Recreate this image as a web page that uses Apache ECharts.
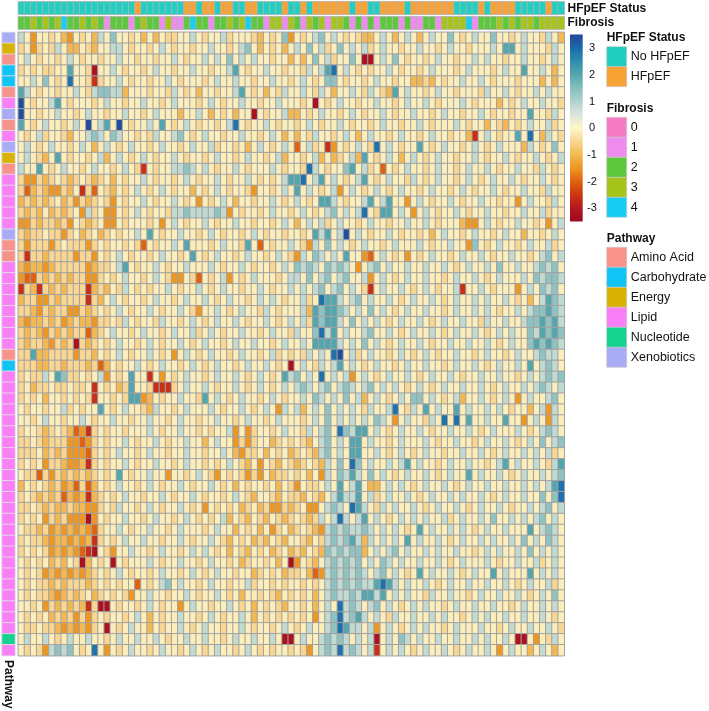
<!DOCTYPE html>
<html><head><meta charset="utf-8">
<script src="https://cdn.jsdelivr.net/npm/echarts/dist/echarts.min.js"></script>
<style>html,body{margin:0;padding:0;background:#fff}#c{width:709px;height:711px}</style>
</head><body><div id="c"></div>
<script>
// value levels (colour class of each cell)
const levelCodes  = ['R','r','O','o','y','l','.','w','g','t','T','b','B'];
const levelValues = [-3.2,-2.6,-2.0,-1.5,-1.0,-0.5,-0.12,0.4,0.8,1.4,2.0,2.9,3.4];

// 57 metabolite rows x 89 sample columns
const heatRows = [
"g . o . . l . y o . | l . y g . t . . l . | y . y . l l . . g . | l . . g l . . . l y | . l . t o | . l . g t . g . l . | l y y . g . y . g . | y . g . . t . l . g | . . t . . l . g . . | l g . y",
"l . o l . l g . y y | . l y . . g g . l . | . l . g . l . . l . | . g . . l . g t . y | . l . y . | g . t . g l . t . g | . g l . g . . l . . | g . . l . g . . l . | . . g . T T . g . . | . l g .",
". g . l . . l . g . | l . . l . . g . . l | . . l . . g . l . . | g . g . t . g . g . | . l . . y | . y . t . g l . . t | . R R . g . t . l . | . l . g . . l . . g | . g . . l . . g . . | l . g .",
"l . l . l l . . T . | . l R . . g . l . . | l . g . . l . . g . | . l . . g T . l . . | g . . l . | . l g . g T b . g . | l . l . . g . l . . | l . g . . . l . g . | . . l . g . . T . . | g . y .",
". . g . t . l . b . | . l r l . . g . l . | . l . . g . l . . . | l . g . . g . . l . | . g . . l | . g . l . t t . l . | . l . g . . l . . y | y l y . l . . g . . | g . l . . . l . . . | y . y .",
"T g . l . . l . . g | . l g t t g g y . . | . l . . l g . l . y | . . l . . g T . l . | y . l g . | . g . l g . y . . g | . l g . l y T . g . | . l . g . . l . . . | l g . . g . l . . g | . g . .",
"B . l . . g T . l . | . . l . g . . l . . | g . . l . g . . . l | . g . l . . g . . l | . . g . . | . l . R . l . g . . | l . . g . . l . g . | . g . l . . . g . l | . . . y . l . g . . | g . . l",
"B . . l . . g . . l | . g . . l . . g . . | l . g . . . y . . g | . y . l . y . . R . | l . . g y | y . l . g . . l . g | . l . . g . l . . g | . . l . g . . l . . | g . l . . l . . T . | . l g .",
"T . l . g . . l . g | . B . g T . B . l . | . g . T . l . g . l | . . l . g b . l . . | g . l . . | l . g . l . . g . l | . . l . g . . l . . | g . l . . . g . l . | . y . l y . l . g . | . g l .",
". l . g l . . l y . | . g t g . t g . . l | . l g . . g t . l . | g . . l . . g . . l | . g . y . | y . l g . . l . g . | y . g . . l . g . . | l . g . . l . . y r | . g . l . . T . b . | y g . l",
". g . l . g . . l . | g . y . g . l . g . | . l . g . . l . g . | . g l . . l . y . g | . l . g . | O . g l . r o . l . | g . l b . g . l . . | T . l . g . . l . g | . l . g . . . y g . | l . t .",
". g . l y . T . l . | . l . g y . g . l . | g . l . . g . l . . | l . g . . l . g . . | l . g y . | . l . g y . y l . g | y T . l . g . y . g | . l . g . . l . . g | . l . . g . l . . g | . l . g",
"g . . T . l . g . . | l . g . . l . g . l | r . l . . g g t g . | g . l . . g . l . . | . g . l . | . l b g . l . . t T | . g l . O . l . g . | . l . g . . l . g . | . g . l . . g . . l | g . l .",
"l o o l y l . l y l | . l y l . y . l . . | g . l . . l . g . l | . . g . l . . g . l | . l . g T | T b . g T . g . l . | g T . l . g . . l g | . l . g . . l . g . | l . g . . g . l . . | g . l .",
"l O y l y o o l y . | r l O . l y . l . g | . l . g . l . . y . | l . g . l . . l o . | . l . g . | T . g . l . g o . g | . l . g . l . g . . | l . g . . l . g . l | . . g . l . . g . . | l g . .",
"y l y l y l . y l o | l y l . l o . l . . | g . l . . g . l . o | . l . g . y . . l . | . g . l . | g . l . T T g . l . | . g T . g T . . o . | g . l . . g . l . . | g . . l . . o . g . | . l g .",
"l y l y . y l y l . | o g l . o o . l . g | . l . . l g g t g g | g g t g o . l . . l | . g . . l | . g . l . g t . g . | g b . l T T . g . o | . g . l . . g . l . | . g . . l . . g . . | g l . .",
"o o l y l l y l o . | l y l . o o . l . . | . l . o . g . l . . | g . l . . g . . l . | . l . g . | y . g . g l . g . . | l . g . . l . . g . | . g . l . . . y o o | . g . l . . g . . l | . o . g",
"l y l l . l l o l . | y l . y l . l . . g | . T . l . . g . . l | . g . l . . l . g . | l . . l . | . l . T g T . g B . | g . l . . g . l . . | l . y . g . . l . g | . . l . g . . y . . | l . g .",
"l o l l l o l . l l | l o l . l . . l . l | O . l . . g . T . . | . l . g . . l T . O | . l . . g | . l o g . t . g . l | . g . . l . g . . . | g . l . . g . . o t | . l . g . . l . g . | . g l .",
"l r l l y l l l l o | l l o . l . g . l . | . l . g . . l . T . | l . g . . l . g . . | l . g . l | o g . t g . g . T . | . o O . g . l . o . | l . g . . l . g . . | g . l . . g . . l . | g t . g",
"y o y y o y l l l l | l o y l l . g T . l | . . g . l . . g . . | . g . l . . g . l . | . l . g . | t g t g . t g t g . | o . g t . g . . g . | . g . . g . l . g . | . g . t . . g . . g | t g t .",
"o O O l y l y l y l | l o o l . l . g . . | l . g . l o o . l O | . l . g o . l . g . | . . l . g | g . t . g t . g t . | . g o . g . l . g . | . g . . l . g . . g | . l . g . . . g . t | g t t g",
"r l y r l y l y l l | l r y l y . l g . l | . l . . g . l . . g | . l . g . . l . . g | . l . . g | . g . g t . g t . g | . l r . g . . g . l | . g . l . . g r . . | g . l . . . o . g . | t g t .",
"y l l o o l y l l l | l r l y . g . l . . | l . g . . l . g . . | g . l . g . . l . g | . g . l . | . g l . b T T g . g | t . g . . g . l . g | . . g . l . g . . g | . g . . g . l . y . | g T t g",
"l l y o l y l l o o | l y l . l . g . l . | . g . l . . g . l o | . . g . l . g . . l | g . l . . | . g y T t T T t g . | g . t . g . l . g . | . g . . l . g . . g | . g . l . . g . g t | t T t g",
"y o y y l y l o y l | y y o l l . l g . l | . . l g . . l . g . | l . g . . g . l . . | g . l . g | . g l T t T T g . t | . g . g . l . g . . | g . l . g . . g . . | l g . . g . . g t t | T t T g",
"l y l y o l y l y l | l O y l . g . . l . | g . . l . g . . g l | . g . l . . g . . l | . g . . l | g . . t b g T . g . | . g t . . g . l . g | . . g . l . g . . g | . l . g . g . . t g | T t T t",
"l y l l y o l y l R | l y l . l . g . . l | . g . l . . g . l . | g . . l . g . . g . | . l . g . | . g . T T T T g . g | . t . g . l . g . . | g . l . . g . . g . | . g . l . g . . t T | t T t g",
"l l T y y l l l l o | l l y . l . g . l . | . g . l . o . g . l | . g . . l . g . . l | . g l . l | . l g . g . b B . g | l . g . . l . g . l | . g . l . . g . . l | . g . . l . g . . g | t g g .",
"l l l y y l l y l l | l y l O y . l . . g | . l . g . . l . g . | l . g . . l . g . . | g . l . R | . g . l g . g T . g | . l . g . . l . g . | . g . . l . g . . g | . l . g . . g . T . | g t g .",
"l . l l g . T t l l | . l . g o . l . T . | . r . o . l . g . . | l . g . . g . l . g | . l . T g | t . g . b . g . g o | . g . l . g . . g . | l . g . . g . l . . | g . . g . . l . g . | g t g t",
"l . y l l . l l . l | l . r . l . y l T . | . l r r r l . g . . | g . l . . g . l . g | . l . g . | g t g . g t . g t g | . g t . g . g . l . | g . l . g . . g . . | g . l . g . . g . g | t g . g",
"l . l . y . . l . l | . l r . . l . l T T | o y . l . . g . . l | T . g . l . g . . l | . g . l . | . g . t g . g . t . | g y . g . l . g . t | t . g . l . g y . . | g . l . g . o . g . | . g t .",
". l . . l . . g l . | l . . T . l . g . . | l y g . . l . g . . | . g . l . . g . l . | g . o g . | g y . g . t . g . g | . l g . . g b . l g | . T . g . . T . g . | . g . g . l . . y . | g o g .",
". . l . g . . l . . | g . l . . g . . l . | . g . . l . g . . l | . . g . . l . g . . | l . g . . | . l . g . t . g . g | . g . t g . o . g . | . l g . b . b . T . | . g . . T . . o . g | . o g .",
"l . . l y l . l y O | o r l . l . . l . . | . g . l . . g . . l | . l . . g o . o l . | . l . g . | . l g . g t . b t g | T T . g . l . g . . | g . l . . g . . g . | l . g . . . g . l . | g t g .",
"l l . l y l l l o o | O o l . l . . g . l | . . g . l . . g . . | y . g . . o l o l . | . y l . l | . l y . g t . g . T | T . g . . l . g . . | . g . l . . g . . l | . g . . g . l . g . | t . g t",
"l l l . y l y l o o | o O l . l . g . . l | . g . . l . . g . . | l . . g . y o l l . | y . l . y | l . l y g t . g . T | T . . g . l . g . l | . g . . l . . g . . | g . l . g . . g . g | . g l .",
"l . l . o l l y o o | y r l . l . . g . l | . . g . . l . g . . | l . l . g . l y . o | . l y . l | y l . l y g . t . b | t . g . . g . g T . | g . . l . g . . g . | . l . g T . g . . g | . l g T",
". l l O l o l y l y | l y l . l . T . l . | . g . . o . . l . g | . l o . l . l o l o | . y l l . | l . y . o g . t g T | g . t . g . l . g . | . g . l . g . . T . | g . . g . l . g . . | g . g t",
"y . l . l y l o y O | l O y . l . g . . l | . g . l . . g . l . | . g . l . y . l . . | l . y . l | o . l l . g . T . g | T . y y . g . g . l | . g . . g . l . g . | . g . . g . . g . g | . g T b",
"l . l y l y l O y o | y r y l . l . g . . | l . . g . l . . g . | l . . l . g . l y . | . l y . l | l y . l y . g T g g | T . g l . g . . g . | l . g . . g . g . . | g . l . g . . g . . | t . t b",
"l l . l y l y y l y | y o o l . l g . . l | . g . l . . g . l . | o . l . l . y l . y | l o o l y | l . o o . g t g . b | T g . l g . g . . g | . l . g . . g . l . | g . . g . l . . g . | g t . g",
"l . l . o l y l o o | o R o . l . . g . . | l . g . . l . g . l | . l . g y . l y . l | y . l y l | . l y l g . g b g . | g T . g . l . g . g | . g . . g l . g . . | g . t . . g . g . g | t . g .",
". l l y l o y o y o | y o O l . . g . l . | . g . . l . g . . . | l . g . . y . l . y | . o l . y | l . l y o g t g t g | g t g . g . g . l . | T . g . . g . g . l | . g . . g . . . T . | g t g .",
"l . l l y o y y o y | o y r l . l . g . . | g . . l . . g . l . | . g . l y . l . y l | y . l y . | . l y . l g t g t T | g y g . g . g . T . | g . . g . l . g . . | g . g . . g . t . g | . t g .",
"l . l . l o y o y o | O r R . l o . . g . | . l . g . . l . g . | g . l . y . l y . l | . y l . y | l y . l y t g t g t | t y . g . g t . g . | . g . g . . g . . l | . g . g . . g . t . | g . g .",
". l . l . y l y . l | R y . l . R . l . . | . g . l . . g . . l | . g . . l . y l . . | l . y . R | o . l y . g t g t g | t . g . t g . g . . | g . . g . l . g . . | . g . l . . g . . g | l . g .",
". l . l o y o y o y | o y l . l . g . l . | . l . g . . l . g . | l . g . . l . . y l | . l . y l | l . y O o g t g t g | t g . g t . g . l . | T . g . . g . l . g | . . T . g . . . T . | g . g .",
". l . l l y l y l l | l y l . l . l . . O | . l . g t . g . . l | . g . . l . . g l . | . l . l . | . l . l . g t g t g | t g g T b T g . g . | . g . l . g . . g . | . g . . g . l . g . | . g l .",
". l . l l y o y l y | l . y l . l . l o . | . g . . l . . g . l | . . g . l . y . . l | . l y . l | . l . y . g t g g t | g T T g T . g . g . | . l g . . g . . l . | g . . g . . g . l . | g . t .",
". . l . o l y l y l | y r l R R . l . . l | . g . l . . o . g . | . l . . g . l . y . | l . l y . | . l . y . g . b g t | g . g t . g . l . g | . g . . l . g . . g | . . g . . l . g . . | g . g .",
". l . l . y l y l o | l o l . l . . l . g | . y . l . . g . . l | . g . l . . g . y . | l . l . l | . l . o . g t b g t | T g . g . l g . . g | . . g . g . . l . g | . g . . g . . g . . | g . l .",
". l l . l l y o y o | y o l . R . l . g . | . y . l . . g . l . | g . . l . . g . l . | . l . g . | l . g . . g t b T g | g . g o . g . l . g | . g . . l . g . . . | g . . l . g . . g . | . g . l",
". g . . g . l . g . | . g . . l . g . . g | . . g . l . . g . . | g . . l . g . . g . | . g . R R | . g . . g t g t g . | g . g R . g . t g . | g . . g . . g . . g | . g . . g . R R . o | . l g .",
". l . l o g t g t . | l . b . o . l . g . | . l . g . . l . g . | l . g . . l . g . l | . l . . l | . l o . g t g b g t | g . g r . g . g . l | . g . . g . l . g . | . g . o . g . . y . | g . y ."
];

// column annotations (89 samples)
const hfpefStatus = "0000000000000000000 1 0000000 11 0 11 0 11 00 11 0000 1 00 1 0 111111 0 11 00 1111 0 1111111 0000 1 0 1111 00000 1 00";
const fibrosis    = "2232323422 3232122212 3221311242 2122323422 1331321323 1332121212 2212112213 3334122232 323323333";
// row annotation (57 metabolites)
const pathwayRows = "XEACCALXALXEA LLLLL XAA LLLLLLLL AC LLLLLLLLLLLL LLLLLLLLLLLL NL";

const hfpefNames = ['No HFpEF','HFpEF'];
const hfpefColors = ['#22CEBF','#F7A234'];
const fibrosisNames = ['0','1','2','3','4'];
const fibrosisColors = ['#F57BC4','#EE8CEE','#5DC83C','#A6C41C','#19CCF2'];
const pathwayCodes = ['A','C','E','L','N','X'];
const pathwayNames = ['Amino Acid','Carbohydrate','Energy','Lipid','Nucleotide','Xenobiotics'];
const pathwayColors = ['#F8938B','#12C4F6','#D8B205','#F97FF7','#14D290','#A9ACF4'];
const scaleTicks = [3,2,1,0,-1,-2,-3];
// colours at -3.5, -3.0, ..., 3.5
const scaleColors = ['#9b0a22','#b3181c','#cc3614','#de6210','#ed9722','#f4b852','#f9d692','#fdf6c8','#dae6da','#b0d2cc','#86bfbe','#54a6ae','#2f8dac','#1a6aaa','#22479a'];

const NC = 89, NR = 57;
const clean = s => s.replace(/[\s|]/g,'');
const mainData = [];
heatRows.forEach((s, r) => {
  const t = clean(s);
  for (let c = 0; c < NC; c++) {
    const k = levelCodes.indexOf(t[c]);
    mainData.push([c, r, k < 0 ? 0 : levelValues[k]]);
  }
});
const hf = clean(hfpefStatus), fb = clean(fibrosis), pw = clean(pathwayRows);
const hfData = [], fbData = [], pwData = [];
for (let c = 0; c < NC; c++) { hfData.push([c, 0, +hf[c]]); fbData.push([c, 0, +fb[c]]); }
for (let r = 0; r < NR; r++) pwData.push([0, r, pathwayCodes.indexOf(pw[r])]);

const cols = Array.from({length: NC}, (_, i) => 'S' + (i + 1));
const rows = Array.from({length: NR}, (_, i) => 'M' + (i + 1));
const hid = {show:false};
const ax = (type, data, extra) => Object.assign({type:'category', data, axisLine:hid, axisTick:hid, axisLabel:hid, splitLine:hid}, extra||{});

const L = 18.3, W = 546, T0 = 32.3, H = 623.4;
const FONT = 'Liberation Sans, Arial, sans-serif';

const graphics = [];
const txt = (x, y, s, bold, size, extra) => graphics.push(Object.assign({type:'text', x, y, style:{text:s, fill:'#111', font:(bold?'bold ':'') + size + 'px ' + FONT, textAlign:'left', textVerticalAlign:'middle'}, silent:true}, extra||{}));
txt(567.5, 8.3, 'HFpEF Status', true, 12);
txt(567.5, 23, 'Fibrosis', true, 12);
txt(8.5, 660, 'Pathway', true, 12, {rotation: -Math.PI/2});

// colour scale legend
const barTop = 34.5, barH = 187;
graphics.push({type:'rect', shape:{x:570, y:barTop, width:12.7, height:barH}, silent:true,
  style:{fill:new echarts.graphic.LinearGradient(0,0,0,1, scaleColors.slice().reverse().map((c,i,a)=>({offset:i/(a.length-1), color:c})))}});
scaleTicks.forEach(v => graphics.push({type:'text', x:592, y:128.3 - v*26.67, silent:true,
  style:{text:String(v), fill:'#111', font:'11px ' + FONT, textAlign:'center', textVerticalAlign:'middle'}}));

function block(title, ty, names, colors) {
  txt(606.7, ty, title, true, 12);
  names.forEach((n, i) => {
    const y = ty + 8.7 + i*20;
    graphics.push({type:'rect', shape:{x:606.7, y, width:20, height:20}, silent:true, style:{fill:colors[i], stroke:'#c8c8c8', lineWidth:0.6}});
    txt(630.7, y + 10, n, false, 12.5);
  });
}
block('HFpEF Status', 38, hfpefNames, hfpefColors);
block('Fibrosis', 108.6, fibrosisNames, fibrosisColors);
block('Pathway', 238.6, pathwayNames, pathwayColors);

const option = {
  animation:false,
  grid:[
    {left:L, top:T0, width:W, height:H},
    {left:L, top:1.7, width:W, height:12.6},
    {left:L, top:16.7, width:W, height:12.6},
    {left:2, top:T0, width:13, height:H}
  ],
  xAxis:[ax('category', cols, {gridIndex:0}), ax('category', cols, {gridIndex:1}), ax('category', cols, {gridIndex:2}), ax('category', ['p'], {gridIndex:3})],
  yAxis:[ax('category', rows, {gridIndex:0, inverse:true}), ax('category', ['h'], {gridIndex:1}), ax('category', ['f'], {gridIndex:2}), ax('category', rows, {gridIndex:3, inverse:true})],
  visualMap:[
    {type:'continuous', show:false, seriesIndex:0, dimension:2, min:-3.5, max:3.5, inRange:{color:scaleColors}},
    {type:'piecewise', show:false, seriesIndex:1, dimension:2, pieces:hfpefColors.map((c,i)=>({value:i, color:c}))},
    {type:'piecewise', show:false, seriesIndex:2, dimension:2, pieces:fibrosisColors.map((c,i)=>({value:i, color:c}))},
    {type:'piecewise', show:false, seriesIndex:3, dimension:2, pieces:pathwayColors.map((c,i)=>({value:i, color:c}))}
  ],
  series:[
    {type:'heatmap', xAxisIndex:0, yAxisIndex:0, data:mainData, progressive:0, itemStyle:{borderColor:'#a2a2a2', borderWidth:1}, emphasis:{disabled:true}},
    {type:'heatmap', xAxisIndex:1, yAxisIndex:1, data:hfData, progressive:0, itemStyle:{borderColor:'#b4b4b4', borderWidth:0.8}, emphasis:{disabled:true}},
    {type:'heatmap', xAxisIndex:2, yAxisIndex:2, data:fbData, progressive:0, itemStyle:{borderColor:'#b4b4b4', borderWidth:0.8}, emphasis:{disabled:true}},
    {type:'heatmap', xAxisIndex:3, yAxisIndex:3, data:pwData, progressive:0, itemStyle:{borderColor:'#e4e4e4', borderWidth:0.8}, emphasis:{disabled:true}}
  ],
  graphic:graphics
};
const chart = echarts.init(document.getElementById('c'), null, {renderer:'canvas'});
chart.setOption(option);
</script></body></html>
